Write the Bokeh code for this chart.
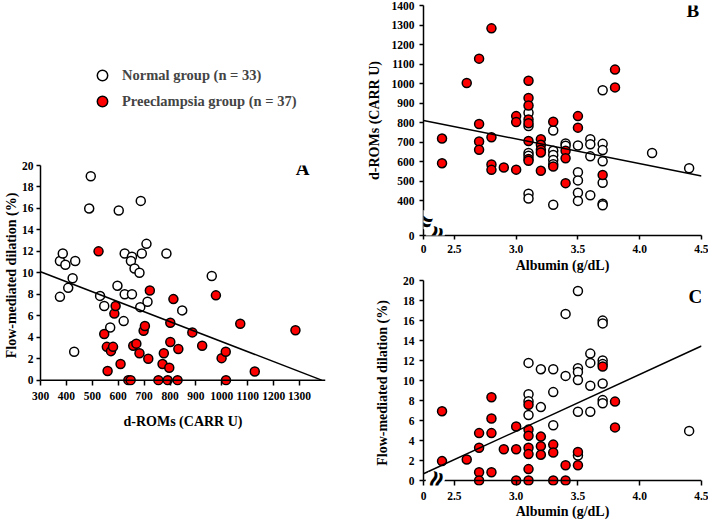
import math
from bokeh.plotting import figure
from bokeh.layouts import row, column
from bokeh.models import (FixedTicker, CustomJSTickFormatter, Label, Legend, LegendItem,
                          Range1d, Span)
from bokeh.embed import file_html
from bokeh.resources import INLINE

FONT = "Liberation Serif"
RED = "#ff0000"

# ---------------- Panel A: FMD vs d-ROMs ----------------
a_normal_droms = [375, 375, 386, 396, 407, 424, 434, 430, 494, 488, 530, 546, 569, 597, 602, 621,
                  625, 625, 653, 649, 653, 663, 682, 685, 687, 691, 709, 713, 786, 847, 961]
a_normal_fmd = [7.76, 11.1, 11.8, 10.75, 8.6, 9.5, 11.1, 2.65, 19.0, 16.0, 7.85, 6.9, 4.9, 8.8, 15.8, 5.5,
                11.8, 8.0, 11.5, 11.1, 8.0, 10.4, 10.0, 6.8, 16.7, 11.8, 12.7, 7.3, 11.8, 6.5, 9.7]
a_pe_droms = [524, 546, 559, 556, 572, 580, 585, 590, 609, 639, 648, 658, 670, 682, 698, 703, 716, 722,
              755, 771, 776, 791, 797, 801, 801, 813, 829, 832, 886, 924, 977, 999, 1015, 1016, 1071,
              1127, 1284]
a_pe_fmd = [12.0, 4.3, 0.85, 3.1, 2.7, 3.1, 6.2, 6.9, 1.5, 0.0, 0.0, 3.2, 3.4, 2.5, 4.6, 5.05, 2.0, 8.35,
            0.0, 1.5, 2.5, 0.0, 1.15, 3.55, 5.35, 7.55, 0.0, 2.9, 4.45, 3.2, 7.9, 2.05, 2.65, 0.0, 5.25,
            0.8, 4.65]
a_reg_x = [300, 1385]
a_reg_y = [10.1, 0.0]
a_xticks = [300, 400, 500, 600, 700, 800, 900, 1000, 1100, 1200, 1300]
a_yticks = [0, 2, 4, 6, 8, 10, 12, 14, 16, 18, 20]

# ---------------- Panel B: d-ROMs vs albumin ----------------
b_normal_alb = [3.1, 3.1, 3.1, 3.1, 3.1, 3.1,
                3.3, 3.3, 3.3, 3.3, 3.3, 3.3,
                3.4, 3.4,
                3.5, 3.5, 3.5, 3.5, 3.5,
                3.6, 3.6, 3.6, 3.6,
                3.7, 3.7, 3.7, 3.7, 3.7, 3.7, 3.7,
                4.1, 4.4]
b_normal_droms = [851, 783, 645, 631, 437, 412,
                  760, 657, 635, 609, 588, 380,
                  694, 682,
                  684, 547, 505, 442, 400,
                  716, 690, 628, 429,
                  966, 692, 660, 603, 493, 386, 378,
                  645, 567]
b_pe_alb = [2.4, 2.4, 2.6, 2.7, 2.7, 2.7, 2.7, 2.8, 2.8, 2.8, 2.8, 2.9,
            3.0, 3.0, 3.0, 3.1, 3.1, 3.1, 3.1, 3.1, 3.1, 3.1, 3.1,
            3.2, 3.2, 3.2, 3.2, 3.2, 3.3, 3.3, 3.4, 3.4, 3.4, 3.5, 3.5, 3.7, 3.8, 3.8]
b_pe_droms = [719, 593, 1003, 1128, 794, 704, 662, 1283, 726, 586, 559, 571,
              834, 804, 560, 1015, 927, 888, 817, 797, 707, 615, 605,
              716, 687, 662, 648, 554, 805, 576, 657, 618, 491, 834, 775, 533, 1072, 981]
b_reg_x = [2.25, 4.5]
b_reg_y = [812, 527]
b_xticks = [2.25, 2.5, 3.0, 3.5, 4.0, 4.5]
b_yticks = [223, 400, 500, 600, 700, 800, 900, 1000, 1100, 1200, 1300, 1400]

# ---------------- Panel C: FMD vs albumin ----------------
c_normal_alb = [3.1, 3.1, 3.1, 3.1, 3.2, 3.2, 3.3, 3.3, 3.3, 3.4, 3.4,
                3.5, 3.5, 3.5, 3.5, 3.5, 3.5, 3.6, 3.6, 3.6, 3.6,
                3.7, 3.7, 3.7, 3.7, 3.7, 3.7, 3.7, 4.4]
c_normal_fmd = [11.76, 8.62, 7.92, 6.55, 11.13, 7.34, 11.13, 8.84, 5.53, 16.66, 10.46,
                18.95, 11.22, 10.84, 10.05, 6.87, 2.5, 12.69, 11.76, 9.47, 6.87,
                15.99, 15.71, 12.0, 11.64, 9.7, 8.04, 7.73, 4.96]
c_pe_alb = [2.4, 2.4, 2.6, 2.7, 2.7, 2.7, 2.7, 2.8, 2.8, 2.8, 2.8, 2.9,
            3.0, 3.0, 3.0, 3.1, 3.1, 3.1, 3.1, 3.1, 3.1, 3.1,
            3.2, 3.2, 3.2, 3.3, 3.3, 3.3, 3.4, 3.4, 3.5, 3.5, 3.7, 3.8, 3.8]
c_pe_fmd = [6.93, 1.94, 2.1, 4.74, 3.27, 0.83, 0.0, 8.33, 6.2, 4.74, 0.83, 3.12,
            5.4, 3.12, 0.0, 7.57, 5.09, 4.48, 3.27, 2.64, 1.14, 0.0,
            4.39, 3.43, 2.58, 3.59, 2.8, 0.0, 1.53, 0.0, 2.86, 1.53, 11.4, 7.89, 5.31]
c_reg_x = [2.25, 4.5]
c_reg_y = [0.67, 13.45]
c_xticks = [2.25, 2.5, 3.0, 3.5, 4.0, 4.5]
c_yticks = [0, 2, 4, 6, 8, 10, 12, 14, 16, 18, 20]

legend_labels = ["Normal group (n = 33)", "Preeclampsia group (n = 37)"]


def style(p):
    p.grid.visible = False
    p.outline_line_color = None
    for ax in p.axis:
        ax.axis_line_width = 1.5
        ax.axis_line_color = "black"
        ax.major_tick_line_width = 1.5
        ax.major_tick_line_color = "black"
        ax.major_tick_in = 0
        ax.major_tick_out = 4
        ax.minor_tick_line_color = None
        ax.major_label_text_font = FONT
        ax.major_label_text_font_style = "bold"
        ax.major_label_text_font_size = "11.5px"
        ax.major_label_text_color = "black"
        ax.axis_label_text_font = FONT
        ax.axis_label_text_font_style = "bold"
        ax.axis_label_text_font_size = "14px"
        ax.axis_label_text_color = "black"


def zero_line_xaxis(p):
    # x axis line drawn at y = 0 (range starts slightly below so markers at 0 are not clipped)
    ax = p.xaxis[0]
    ax.axis_line_color = None
    ax.major_tick_in = 5
    ax.major_tick_out = 0
    p.add_layout(Span(location=0, dimension="width", line_color="black", line_width=1.5))


def points(p, xn, yn, xr, yr):
    p.scatter(xn, yn, size=9, fill_color="white", line_color="black", line_width=1.5)
    p.scatter(xr, yr, size=9, fill_color=RED, line_color="black", line_width=1.5)


def letter(p, x, y, t):
    p.add_layout(Label(x=x, y=y, text=t, text_font=FONT, text_font_style="bold",
                       text_font_size="19px", text_align="center", text_baseline="middle",
                       text_color="black"))


def brk(p, x, y, angle):
    # small white gap in the axis line, then a larger wavy break mark on top
    p.add_layout(Label(x=x, y=y, text="\u2248", text_font="DejaVu Sans",
                       text_font_size="15px", text_align="center", text_baseline="middle",
                       angle=angle, text_color="white", background_fill_color="white",
                       padding=0))
    p.add_layout(Label(x=x, y=y, text="\u2248", text_font="DejaVu Sans", text_font_style="bold",
                       text_font_size="27px", text_align="center", text_baseline="middle",
                       angle=angle, text_color="black"))


# ---- legend figure ----
pL = figure(width=350, height=142, x_range=Range1d(0, 1), y_range=Range1d(0, 1),
            output_backend="svg", toolbar_location=None, min_border=0,
            x_axis_location=None, y_axis_location=None)
pL.grid.visible = False
pL.outline_line_color = None
# invisible proxy renderers (outside the visible range) that only feed the legend
rn = pL.scatter(x=[-5], y=[-5], fill_color="white", line_color="black", line_width=1.5)
rr = pL.scatter(x=[-5], y=[-5], fill_color=RED, line_color="black", line_width=1.5)
leg = Legend(items=[LegendItem(label=legend_labels[0], renderers=[rn]),
                    LegendItem(label=legend_labels[1], renderers=[rr])],
             location=(47, 28), margin=0, padding=0, spacing=0,
             glyph_width=30, glyph_height=26, label_standoff=5,
             label_text_font=FONT, label_text_font_style="bold", label_text_font_size="14.5px",
             border_line_color=None, background_fill_alpha=0)
pL.add_layout(leg)

# ---- panel A ----
pA = figure(width=350, height=300, x_range=Range1d(300, 1400), y_range=Range1d(-0.5, 20),
            output_backend="svg", toolbar_location=None,
            min_border_left=30, min_border_right=25, min_border_top=23, min_border_bottom=57)
style(pA)
zero_line_xaxis(pA)
pA.xaxis.ticker = FixedTicker(ticks=a_xticks)
pA.yaxis.ticker = FixedTicker(ticks=a_yticks)
pA.yaxis.bounds = (0, 20)
pA.xaxis.axis_label = "d-ROMs (CARR U)"
pA.yaxis.axis_label = "Flow-mediated dilation (%)"
pA.xaxis.major_label_standoff = 6
pA.xaxis.axis_label_standoff = 11
pA.yaxis.major_label_standoff = 3
pA.yaxis.axis_label_standoff = 0
points(pA, a_normal_droms, a_normal_fmd, a_pe_droms, a_pe_fmd)
pA.line(a_reg_x, a_reg_y, line_color="black", line_width=1.5)
letter(pA, 1312, 19.7, "A")

# ---- panel B ----
pB = figure(width=358, height=275, x_range=Range1d(2.25, 4.5), y_range=Range1d(223, 1400),
            output_backend="svg", toolbar_location=None,
            min_border_left=73, min_border_right=7, min_border_top=5, min_border_bottom=39)
style(pB)
pB.xaxis.ticker = FixedTicker(ticks=b_xticks)
pB.yaxis.ticker = FixedTicker(ticks=b_yticks)
pB.xaxis.formatter = CustomJSTickFormatter(code='return tick < 2.4 ? "0" : tick.toFixed(1);')
pB.yaxis.formatter = CustomJSTickFormatter(code='return tick < 300 ? "0" : tick.toFixed(0);')
pB.xaxis.axis_label = "Albumin (g/dL)"
pB.yaxis.axis_label = "d-ROMs (CARR U)"
pB.xaxis.major_label_standoff = 5
pB.xaxis.axis_label_standoff = 2
pB.yaxis.major_label_standoff = 5
pB.yaxis.axis_label_standoff = 7
points(pB, b_normal_alb, b_normal_droms, b_pe_alb, b_pe_droms)
pB.line(b_reg_x, b_reg_y, line_color="black", line_width=1.5)
letter(pB, 4.43, 1375, "B")
brk(pB, 2.25, 304, -0.35)
brk(pB, 2.345, 223, 1.25)

# ---- panel C ----
pC = figure(width=358, height=246, x_range=Range1d(2.25, 4.5), y_range=Range1d(-0.5, 20),
            output_backend="svg", toolbar_location=None,
            min_border_left=73, min_border_right=7, min_border_top=5, min_border_bottom=35)
style(pC)
zero_line_xaxis(pC)
pC.xaxis.ticker = FixedTicker(ticks=c_xticks)
pC.yaxis.ticker = FixedTicker(ticks=c_yticks)
pC.yaxis.bounds = (0, 20)
pC.xaxis.formatter = CustomJSTickFormatter(code='return tick < 2.4 ? "0" : tick.toFixed(1);')
pC.xaxis.axis_label = "Albumin (g/dL)"
pC.yaxis.axis_label = "Flow-mediated dilation (%)"
pC.xaxis.major_label_standoff = 6
pC.xaxis.axis_label_standoff = 1
pC.yaxis.major_label_standoff = 5
pC.yaxis.axis_label_standoff = 10
points(pC, c_normal_alb, c_normal_fmd, c_pe_alb, c_pe_fmd)
pC.line(c_reg_x, c_reg_y, line_color="black", line_width=1.5)
letter(pC, 4.45, 18.4, "C")
brk(pC, 2.345, 0, 1.25)

layout = row(column(pL, pA), column(pB, pC))
open("out.html", "w").write(file_html(layout, INLINE))
